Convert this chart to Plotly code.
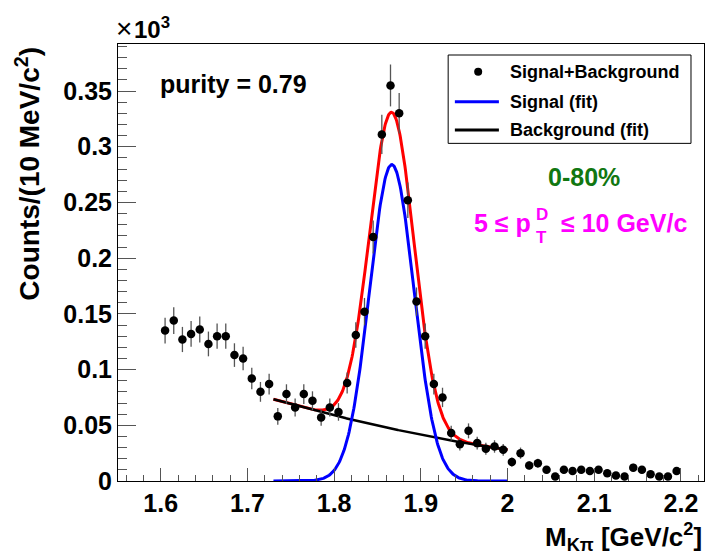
import numpy as np
import plotly.graph_objects as go

# ---------------- data (counts in units of 10^3) ----------------
mass = [1.605, 1.615, 1.625, 1.635, 1.645, 1.655, 1.665, 1.675, 1.685, 1.695,
        1.705, 1.715, 1.725, 1.735, 1.745, 1.755, 1.765, 1.775, 1.785, 1.795,
        1.805, 1.815, 1.825, 1.835, 1.845, 1.855, 1.865, 1.875, 1.885, 1.895,
        1.905, 1.915, 1.925, 1.935, 1.945, 1.955, 1.965, 1.975, 1.985, 1.995,
        2.005, 2.015, 2.025, 2.035, 2.045, 2.055, 2.065, 2.075, 2.085, 2.095,
        2.105, 2.115, 2.125, 2.135, 2.145, 2.155, 2.165, 2.175, 2.185, 2.195]
counts = [0.135, 0.144, 0.127, 0.132, 0.136, 0.123, 0.130, 0.130, 0.113, 0.110,
          0.092, 0.080, 0.087, 0.058, 0.078, 0.066, 0.078, 0.072, 0.057, 0.066,
          0.062, 0.088, 0.131, 0.152, 0.219, 0.311, 0.355, 0.330, 0.252, 0.161,
          0.130, 0.087, 0.075, 0.043, 0.033, 0.045, 0.034, 0.029, 0.031, 0.028,
          0.017, 0.025, 0.014, 0.016, 0.010, 0.004, 0.010, 0.009, 0.010, 0.009,
          0.010, 0.007, 0.005, 0.004, 0.012, 0.010, 0.006, 0.004, 0.004, 0.009]
errors = [0.0116, 0.0120, 0.0113, 0.0115, 0.0117, 0.0111, 0.0114, 0.0114, 0.0106, 0.0105,
          0.0096, 0.0089, 0.0093, 0.0076, 0.0088, 0.0081, 0.0088, 0.0085, 0.0075, 0.0081,
          0.0079, 0.0094, 0.0114, 0.0123, 0.0148, 0.0176, 0.0188, 0.0182, 0.0159, 0.0127,
          0.0114, 0.0093, 0.0087, 0.0066, 0.0057, 0.0067, 0.0058, 0.0054, 0.0056, 0.0053,
          0.0041, 0.0050, 0.0037, 0.0040, 0.0032, 0.0020, 0.0032, 0.0030, 0.0032, 0.0030,
          0.0032, 0.0026, 0.0022, 0.0020, 0.0035, 0.0032, 0.0024, 0.0020, 0.0020, 0.0030]

# fit parameters (Gaussian signal + quadratic background)
fit_range = [1.73, 2.0]
sig_amp, sig_mean, sig_sigma = 0.284, 1.8665, 0.0255
bg_x0, bg_c0, bg_c1, bg_c2 = 1.73, 0.0734, -0.2205, 0.194

x_ticks = [1.6, 1.7, 1.8, 1.9, 2.0, 2.1, 2.2]
x_tick_text = ["1.6", "1.7", "1.8", "1.9", "2", "2.1", "2.2"]
y_ticks = [0, 0.05, 0.1, 0.15, 0.2, 0.25, 0.3, 0.35]
y_tick_text = ["0", "0.05", "0.1", "0.15", "0.2", "0.25", "0.3", "0.35"]

legend_labels = ["Signal+Background", "Signal (fit)", "Background (fit)"]

# ---------------- curves ----------------
xf = np.linspace(fit_range[0], fit_range[1], 400)
signal = sig_amp * np.exp(-0.5 * ((xf - sig_mean) / sig_sigma) ** 2)
u = xf - bg_x0
background = bg_c0 + bg_c1 * u + bg_c2 * u ** 2
total = signal + background

FONT = "Liberation Sans, Arial, Helvetica, sans-serif"

fig = go.Figure()
fig.add_trace(go.Scatter(x=xf, y=total, mode="lines",
                         line=dict(color="#ff0000", width=3), showlegend=False))
fig.add_trace(go.Scatter(x=xf, y=background, mode="lines",
                         line=dict(color="#000000", width=2.5), showlegend=False))
fig.add_trace(go.Scatter(x=xf, y=signal, mode="lines",
                         line=dict(color="#0000ff", width=3), showlegend=False))
fig.add_trace(go.Scatter(x=mass, y=counts, mode="markers",
                         marker=dict(color="black", size=8.5),
                         error_y=dict(type="data", array=errors, visible=True,
                                      thickness=1.3, width=0, color="#555555"),
                         showlegend=False))

# plot area in pixels
L, R, T, B = 118.3, 704.0, 44.0, 480.7
W, H = R - L, B - T


def px(x):
    return (x - L) / W


def py(y):
    return (B - y) / H


axis_common = dict(showgrid=False, zeroline=False, showline=True, mirror=True,
                   linecolor="black", linewidth=1, ticks="inside",
                   tickcolor="#555555", tickwidth=1,
                   tickfont=dict(family=FONT, size=25, color="black", weight="bold"))

fig.update_xaxes(range=[1.5507, 2.2266], tickmode="array", tickvals=x_ticks,
                 ticktext=x_tick_text, ticklen=13,
                 minor=dict(ticks="inside", ticklen=6.5, dtick=0.02, tick0=1.6,
                            tickcolor="#555555", tickwidth=1),
                 **axis_common)
fig.update_yaxes(range=[0, 0.3922], tickmode="array", tickvals=y_ticks,
                 ticktext=y_tick_text, ticklen=17.5,
                 minor=dict(ticks="inside", ticklen=8.8, dtick=0.01, tick0=0,
                            tickcolor="#555555", tickwidth=1),
                 **axis_common)

ann = []


def text(s, x, y, size, color="black", xanchor="left", yanchor="middle", angle=0,
         weight="bold"):
    ann.append(dict(text=s, x=px(x), y=py(y), xref="paper", yref="paper",
                    xanchor=xanchor, yanchor=yanchor, showarrow=False, textangle=angle,
                    font=dict(family=FONT, size=size, color=color, weight=weight)))


# axis titles
text("Counts/(10 MeV/c<sup>2</sup>)", 28, 45, 28, xanchor="center", yanchor="top", angle=-90)
text("M<sub>Kπ</sub> [GeV/c<sup>2</sup>]", 704, 537, 26, xanchor="right")
text("×", 114, 29, 28, weight="normal")
text("10<sup>3</sup>", 132, 28, 24)

# labels
text("purity = 0.79", 158, 84, 25)
text("0-80%", 584, 177, 25, color="#117711", xanchor="center")
text("5 ≤ p", 533, 223, 25, color="#ff00ff", xanchor="right")
text("D", 534, 214, 17, color="#ff00ff")
text("T", 534, 237, 17, color="#ff00ff")
text("≤ 10 GeV/c", 559, 223, 25, color="#ff00ff")

# legend (manual, ROOT style)
shapes = []
shapes.append(dict(type="rect", xref="paper", yref="paper",
                   x0=px(448.3), x1=px(691), y0=py(143.3), y1=py(55),
                   line=dict(color="black", width=1), fillcolor="white", layer="above"))
shapes.append(dict(type="circle", xref="paper", yref="paper",
                   x0=px(474.3), x1=px(482.3), y0=py(75.7), y1=py(67.7),
                   line=dict(color="black", width=0), fillcolor="black", layer="above"))
shapes.append(dict(type="line", xref="paper", yref="paper",
                   x0=px(455), x1=px(499), y0=py(101.7), y1=py(101.7),
                   line=dict(color="#0000ff", width=3), layer="above"))
shapes.append(dict(type="line", xref="paper", yref="paper",
                   x0=px(455), x1=px(499), y0=py(130), y1=py(130),
                   line=dict(color="black", width=3), layer="above"))
for lab, yy in zip(legend_labels, [71.7, 101.7, 130]):
    text(lab, 508, yy, 18)

fig.update_layout(width=708, height=559, autosize=False,
                  margin=dict(l=L, r=708 - R, t=T, b=559 - B, pad=0),
                  paper_bgcolor="white", plot_bgcolor="white",
                  annotations=ann, shapes=shapes, showlegend=False)

fig.write_html("out.html")
